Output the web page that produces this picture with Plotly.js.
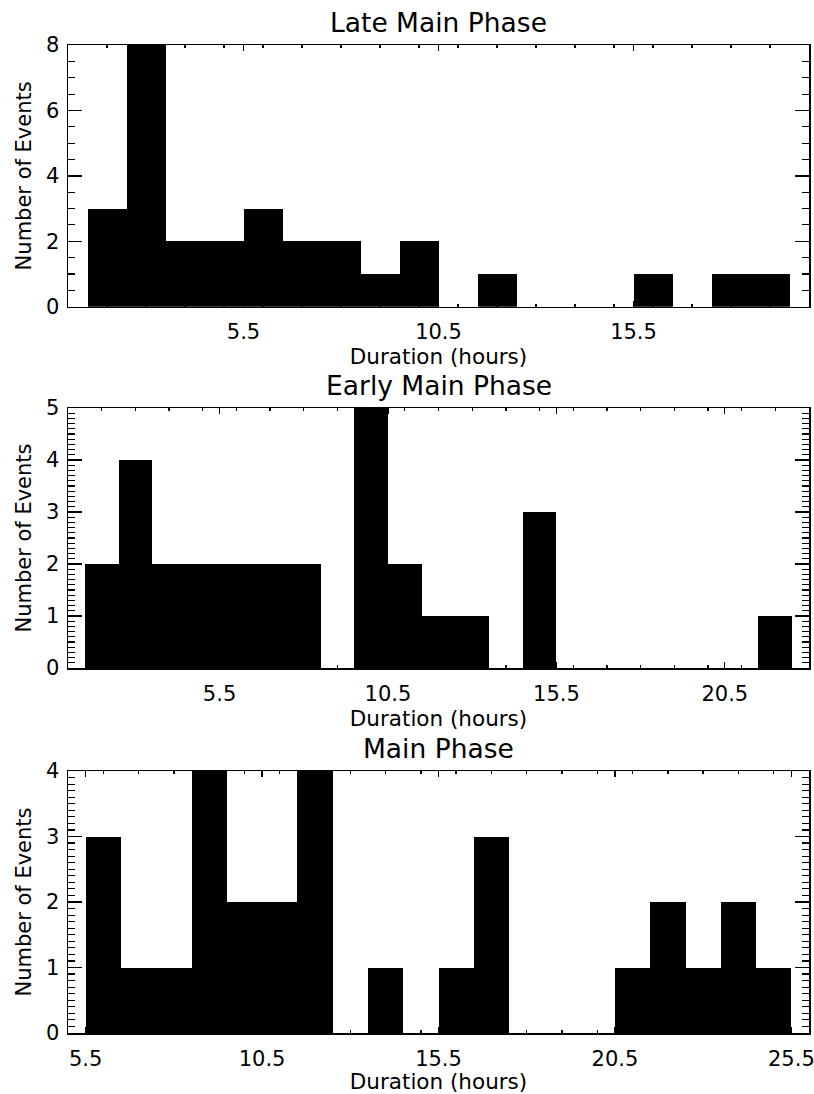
<!DOCTYPE html>
<html>
<head>
<meta charset="utf-8">
<script src="https://cdn.plot.ly/plotly-3.0.1.min.js"></script>
<style>html,body{margin:0;padding:0;background:#fff;}#chart{width:814px;height:1094px;}</style>
</head>
<body>
<div id="chart"></div>
<script>
// Panel titles
const panelTitles = ["Late Main Phase", "Early Main Phase", "Main Phase"];
const xAxisTitle = "Duration (hours)";
const yAxisTitle = "Number of Events";

// Late Main Phase: bin centers (hours) and counts
const lateCenters = [2, 3, 4, 5, 6, 7, 8, 9, 10, 11, 12, 13, 14, 15, 16, 17, 18, 19];
const lateCounts  = [3, 8, 2, 2, 3, 2, 2, 1, 2, 0, 1, 0, 0, 0, 1, 0, 1, 1];

// Early Main Phase
const earlyCenters = [2, 3, 4, 5, 6, 7, 8, 9, 10, 11, 12, 13, 14, 15, 16, 17, 18, 19, 20, 21, 22];
const earlyCounts  = [2, 4, 2, 2, 2, 2, 2, 0, 5, 2, 1, 1, 0, 3, 0, 0, 0, 0, 0, 0, 1];

// Main Phase
const mainCenters = [6, 7, 8, 9, 10, 11, 12, 13, 14, 15, 16, 17, 18, 19, 20, 21, 22, 23, 24, 25];
const mainCounts  = [3, 1, 1, 4, 2, 2, 4, 0, 1, 0, 1, 3, 0, 0, 0, 1, 2, 1, 2, 1];

// Axis ranges and ticks
const xRanges = [[1, 20], [1, 23], [5, 26]];
const yRanges = [[0, 8], [0, 5], [0, 4]];
const yDticks = [2, 1, 1];
const yMinorDticks = [0.5, 0.1, 0.1];

const FONT = "DejaVu Sans, Liberation Sans, sans-serif";

const traces = [
  {x: lateCenters, y: lateCounts, xaxis: "x", yaxis: "y"},
  {x: earlyCenters, y: earlyCounts, xaxis: "x2", yaxis: "y2"},
  {x: mainCenters, y: mainCounts, xaxis: "x3", yaxis: "y3"}
].map(t => Object.assign(t, {
  type: "bar", width: 1,
  marker: {color: "#000000", line: {color: "#000000", width: 0}},
  showlegend: false, hoverinfo: "x+y"
}));

const H = 1094, T = 45, B = 61;
const plotH = H - T - B;
function dom(topPx, botPx) { return [1 - (botPx - T) / plotH, 1 - (topPx - T) / plotH]; }
const domains = [dom(45, 306.7), dom(408, 668), dom(771, 1033)];

function xAxis(i) {
  return {
    domain: [0, 1], range: xRanges[i], anchor: i === 0 ? "y" : "y" + (i + 1),
    tick0: 0.5, dtick: 5, ticks: "inside", ticklen: 6, tickwidth: 1.3, tickcolor: "#000",
    minor: {ticks: "inside", dtick: 1, ticklen: 3, tickwidth: 1.3, tickcolor: "#000"},
    showline: true, linecolor: "#000", linewidth: 1.5, mirror: "allticks",
    showgrid: false, zeroline: false, tickformat: ".1f",
    tickfont: {family: FONT, size: 21, color: "#000"},
    ticklabelstandoff: 6, ticklabeloverflow: "allow",
    title: {text: xAxisTitle, font: {family: FONT, size: 21.5, color: "#000"}, standoff: 3},
    automargin: false, fixedrange: true
  };
}
function yAxis(i) {
  return {
    domain: domains[i], range: yRanges[i], anchor: i === 0 ? "x" : "x" + (i + 1),
    tick0: 0, dtick: yDticks[i], ticks: "inside", ticklen: 14, tickwidth: 1.3, tickcolor: "#000",
    minor: {ticks: "inside", dtick: yMinorDticks[i], ticklen: 7, tickwidth: 1.1, tickcolor: "#000"},
    showline: true, linecolor: "#000", linewidth: 1.5, mirror: "allticks",
    showgrid: false, zeroline: false,
    tickfont: {family: FONT, size: 21, color: "#000"},
    ticklabelstandoff: 3, ticklabeloverflow: "allow",
    title: {text: yAxisTitle, font: {family: FONT, size: 21, color: "#000"}, standoff: 8},
    automargin: false, fixedrange: true
  };
}

const annotations = panelTitles.map((txt, i) => ({
  text: txt, xref: "paper", yref: "paper", x: 0.5, y: domains[i][1],
  xanchor: "center", yanchor: "bottom", yshift: 5, showarrow: false,
  font: {family: FONT, size: 26.5, color: "#000"}
}));

const layout = {
  width: 814, height: H,
  margin: {l: 68, r: 5, t: T, b: B},
  paper_bgcolor: "#fff", plot_bgcolor: "#fff",
  bargap: 0, showlegend: false,
  xaxis: xAxis(0), yaxis: yAxis(0),
  xaxis2: xAxis(1), yaxis2: yAxis(1),
  xaxis3: xAxis(2), yaxis3: yAxis(2),
  annotations: annotations,
  font: {family: FONT, color: "#000"}
};

Plotly.newPlot("chart", traces, layout, {displayModeBar: false, staticPlot: true});
</script>
</body>
</html>
